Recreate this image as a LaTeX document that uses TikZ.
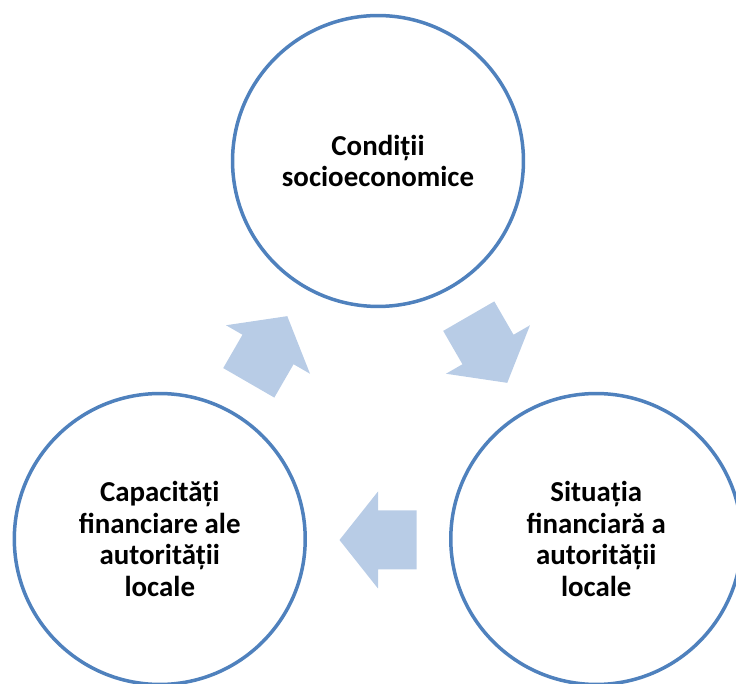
\documentclass[tikz,border=0pt]{standalone}
\usepackage{fontspec}
\setmainfont{Carlito}
\usepackage{xcolor}
\usepackage{tikz}
\usetikzlibrary{positioning, calc}

\definecolor{circblue}{RGB}{79,129,189}
\definecolor{arrowblue}{RGB}{184,204,230}

\tikzset{
	circ/.style={circle, draw=circblue, line width=3.5, fill=white, minimum size=292, inner sep=0, align=center, font=\fontsize{29}{32}\selectfont\bfseries},
	blockarrow/.pic={\fill[arrowblue] (-38.5,-29.5) -- (0,-29.5) -- (0,-48.5) -- (38.5,0) -- (0,48.5) -- (0,29.5) -- (-38.5,29.5) -- cycle;}
}

\begin{document}
\begin{tikzpicture}[x=1bp, y=1bp]
					\useasboundingbox (0,0) rectangle (736,684);
					\clip (0,0) rectangle (736,684);
					\coordinate (hub) at (378,271);
					
					\node [circ] (cond) at ([shift={(90:252)}]hub) {Condiții\\socioeconomice};
					\node [circ] (situatia) at ([shift={(-30:252)}]hub) {Situația\\financiară a\\autorității\\locale};
					\node [circ] (capacitati) at ([shift={(210:252)}]hub) {Capacități\\financiare ale\\autorității\\locale};
					
					\pic [rotate=-60] at ([shift={(30:127)}]hub) {blockarrow};
					\pic [rotate=180] at ([shift={(270:127)}]hub) {blockarrow};
					\pic [rotate=60] at ([shift={(150:127)}]hub) {blockarrow};
					\end{tikzpicture}
\end{document}
